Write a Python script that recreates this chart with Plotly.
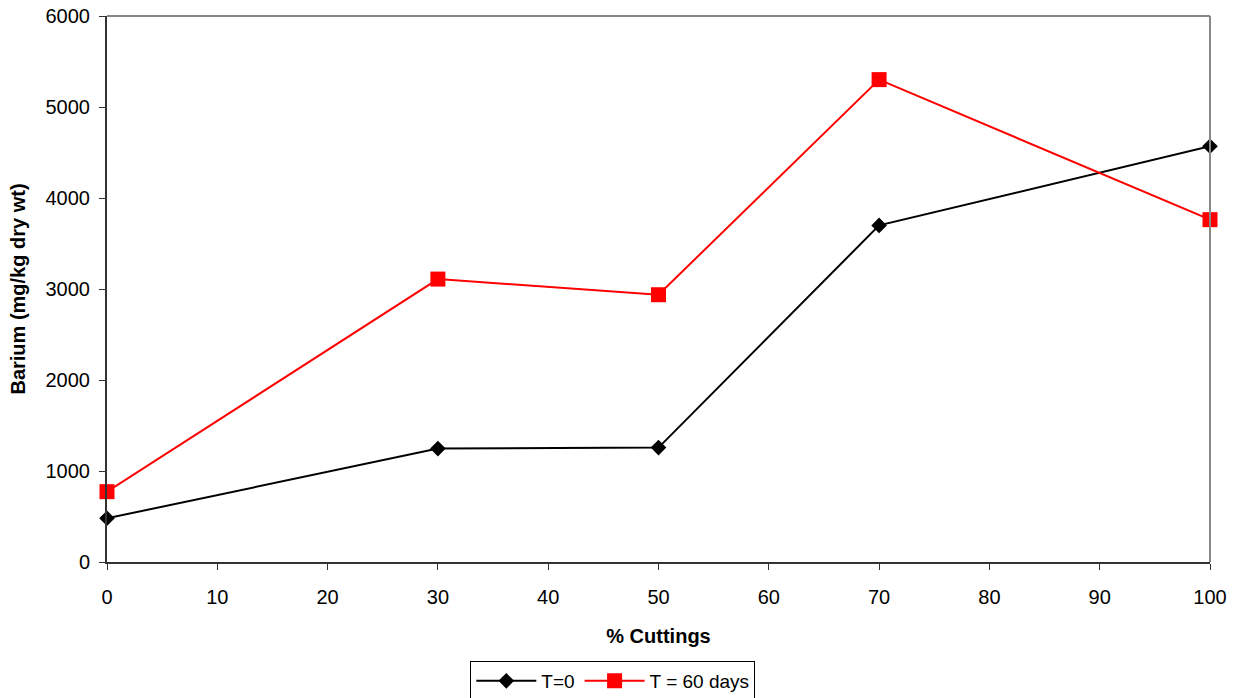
import plotly.graph_objects as go

# % cuttings in the mix
cuttings = [0, 30, 50, 70, 100]
# Barium concentration (mg/kg dry wt)
barium_t0 = [480, 1246, 1257, 3699, 4568]
barium_t60 = [773, 3109, 2937, 5301, 3762]

x_ticks = [0, 10, 20, 30, 40, 50, 60, 70, 80, 90, 100]
y_ticks = [0, 1000, 2000, 3000, 4000, 5000, 6000]

font_family = "Liberation Sans, Arial, sans-serif"

fig = go.Figure()
fig.add_trace(go.Scatter(
    x=cuttings, y=barium_t0, name="T=0", mode="lines+markers",
    line=dict(color="black", width=2),
    marker=dict(symbol="diamond", size=12, color="black"),
    cliponaxis=False,
))
fig.add_trace(go.Scatter(
    x=cuttings, y=barium_t60, name="T = 60 days", mode="lines+markers",
    line=dict(color="#ff0000", width=2),
    marker=dict(symbol="square", size=15, color="#ff0000"),
    cliponaxis=False,
))

# top and right frame lines
fig.add_shape(type="line", xref="paper", yref="paper", x0=0, x1=1, y0=1, y1=1,
              line=dict(color="#888888", width=2))
fig.add_shape(type="line", xref="paper", yref="paper", x0=1, x1=1, y0=0, y1=1,
              line=dict(color="#888888", width=2))

fig.update_layout(
    width=1238, height=698,
    margin=dict(l=107, r=28, t=16, b=136, autoexpand=False),
    paper_bgcolor="white", plot_bgcolor="white",
    font=dict(family=font_family, size=20, color="black"),
    showlegend=True,
    legend=dict(
        orientation="h", xref="container", yref="container",
        x=0.495, xanchor="center", y=0.053, yanchor="top",
        bordercolor="black", borderwidth=1, bgcolor="white",
        font=dict(size=19), itemwidth=60, tracegroupgap=0,
    ),
    xaxis=dict(
        range=[0, 100], tickvals=x_ticks, showgrid=False, zeroline=False,
        showline=True, linecolor="#333333", linewidth=2,
        ticks="outside", ticklen=6, tickcolor="#333333", tickwidth=1,
        ticklabelstandoff=10,
        title=dict(text="<b>% Cuttings</b>", font=dict(size=20), standoff=22),
    ),
    yaxis=dict(
        range=[0, 6000], tickvals=y_ticks, showgrid=False, zeroline=False,
        showline=True, linecolor="#333333", linewidth=2,
        ticks="outside", ticklen=6, tickcolor="#333333", tickwidth=1,
        ticklabelstandoff=5,
        title=dict(text="<b>Barium (mg/kg dry wt)</b>", font=dict(size=20), standoff=15),
    ),
)

fig.write_html("out.html")
